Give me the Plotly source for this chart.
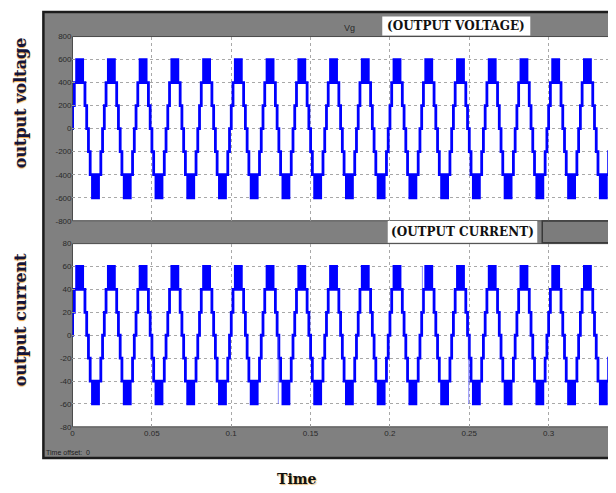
import plotly.graph_objects as go

# ---------------- data ----------------
# times (s) of the positive peaks of each cycle
peak_times = [0.0045, 0.0245, 0.0445, 0.0645, 0.0845, 0.1045, 0.1245, 0.1445,
              0.1645, 0.1845, 0.2045, 0.2245, 0.2445, 0.2645, 0.2845, 0.3045, 0.3245]

# switching instants inside one cycle, relative to its positive peak (ms)
switch_offsets_ms = [-4.45, -3.35, -1.9, -1.3, -1.0, -0.4, -0.1, 0.5, 0.8, 1.4, 1.6, 1.9,
                     3.35, 4.45, 5.55, 6.65, 8.1, 8.7, 9.0, 9.6, 9.9, 10.5, 10.8, 11.4,
                     11.6, 11.9, 13.35, 14.45]
# level held after each switching instant
voltage_levels = [200, 400, 600, 400, 600, 400, 600, 400, 600, 400, 600, 400,
                  200, 0, -200, -400, -600, -400, -600, -400, -600, -400, -600, -400,
                  -600, -400, -200, 0]
current_levels = [20, 40, 60, 40, 60, 40, 60, 40, 60, 40, 60, 40,
                  20, 0, -20, -40, -60, -40, -60, -40, -60, -40, -60, -40,
                  -60, -40, -20, 0]

# thin glitch lines seen in the current trace: (time, from, to)
glitch_t = [0.1297, 0.2205, 0.2497]
glitch_top = [0, 60, 0]
glitch_bottom = [-60, 20, -60]

t_end = 0.3425

v_ticks = [-800, -600, -400, -200, 0, 200, 400, 600, 800]
v_tick_text = ["-800", "-600", "-400", "-200", "0", "200", "400", "600", "800"]
i_ticks = [-80, -60, -40, -20, 0, 20, 40, 60, 80]
i_tick_text = ["-80", "-60", "-40", "-20", "0", "20", "40", "60", "80"]
x_ticks = [0, 0.05, 0.1, 0.15, 0.2, 0.25, 0.3]
x_tick_text = ["0", "0.05", "0.1", "0.15", "0.2", "0.25", "0.3"]

# ---------------- build step series ----------------
def build(levels):
    xs, ys = [0.0], [0]
    for p in peak_times:
        for off, lv in zip(switch_offsets_ms, levels):
            t = p + off / 1000.0
            if 0 <= t <= t_end:
                xs.append(t)
                ys.append(lv)
    xs.append(t_end)
    ys.append(ys[-1])
    return xs, ys

vx, vy = build(voltage_levels)
ix, iy = build(current_levels)

gx, gy = [], []
for t, a, b in zip(glitch_t, glitch_top, glitch_bottom):
    gx += [t, t, None]
    gy += [a, b, None]

# page has an 8px body margin: figure occupies window pixels 8..616 / 8..493
OFF = 8
W, H = 616 - OFF, 493 - OFF
def PX(x):
    return (x - OFF) / W
def PY(y):
    return 1 - (y - OFF) / H

fig = go.Figure()
fig.add_trace(go.Scatter(x=vx, y=vy, mode="lines", line=dict(color="#0000ff", width=2.8, shape="hv"),
                         xaxis="x", yaxis="y", showlegend=False, hoverinfo="skip"))
fig.add_trace(go.Scatter(x=ix, y=iy, mode="lines", line=dict(color="#0000ff", width=2.8, shape="hv"),
                         xaxis="x2", yaxis="y2", showlegend=False, hoverinfo="skip"))
fig.add_trace(go.Scatter(x=gx, y=gy, mode="lines", line=dict(color="rgba(60,60,255,0.6)", width=1),
                         xaxis="x2", yaxis="y2", showlegend=False, hoverinfo="skip"))

x_left, top1, bot1, top2, bot2 = 70.7, 33.0, 220.7, 244.0, 430.7

grid = dict(showgrid=True, gridcolor="#a8a8a8", griddash="dot", gridwidth=1, zeroline=False,
            showline=False, ticks="inside", ticklen=3, tickcolor="#999999",
            tickfont=dict(family="Liberation Sans, Arial", size=8, color="#2a2a2a"))

fig.update_layout(
    width=W, height=H, autosize=False,
    margin=dict(l=0, r=0, t=0, b=0),
    paper_bgcolor="white", plot_bgcolor="white",
    xaxis=dict(domain=[PX(x_left), 1], range=[0, t_end], anchor="y",
               tickvals=x_ticks, ticktext=[""] * len(x_ticks), **grid),
    yaxis=dict(domain=[PY(bot1), PY(top1)], range=[-800, 800], anchor="x",
               tickvals=v_ticks, ticktext=v_tick_text, **grid),
    xaxis2=dict(domain=[PX(x_left), 1], range=[0, t_end], anchor="y2",
                tickvals=x_ticks, ticktext=x_tick_text, **grid),
    yaxis2=dict(domain=[PY(bot2), PY(top2)], range=[-80, 80], anchor="x2",
                tickvals=i_ticks, ticktext=i_tick_text, **grid),
)

shapes = [
    # grey scope frame
    dict(type="rect", xref="paper", yref="paper", x0=PX(41.5), x1=1.05, y0=PY(462.5), y1=PY(8),
         fillcolor="#808080", line=dict(color="#1c1c1c", width=2.5), layer="below"),
    # plot areas
    dict(type="rect", xref="paper", yref="paper", x0=PX(x_left), x1=1.05, y0=PY(bot1), y1=PY(top1),
         fillcolor="white", line=dict(color="#4a4a4a", width=1), layer="below"),
    dict(type="rect", xref="paper", yref="paper", x0=PX(x_left), x1=1.05, y0=PY(bot2), y1=PY(top2),
         fillcolor="white", line=dict(color="#4a4a4a", width=1), layer="below"),
    # title boxes
    dict(type="rect", xref="paper", yref="paper", x0=PX(381.5), x1=PX(530), y0=PY(32), y1=PY(12.5),
         fillcolor="white", line=dict(width=0), layer="above"),
    dict(type="rect", xref="paper", yref="paper", x0=PX(387), x1=PX(537), y0=PY(243), y1=PY(221),
         fillcolor="white", line=dict(width=0), layer="above"),
    dict(type="rect", xref="paper", yref="paper", x0=PX(542), x1=1.05, y0=PY(243), y1=PY(221),
         fillcolor="#7c7c7c", line=dict(color="#3a3a3a", width=1.5), layer="above"),
]
fig.update_layout(shapes=shapes)

serif = "DejaVu Serif, Liberation Serif, serif"
ann = [
    dict(text="<b>output voltage</b>", x=PX(18), y=PY(100), textangle=-90,
         font=dict(family=serif, size=16, color="#15153a", shadow="-1px 0px 1px #e8a040")),
    dict(text="<b>output current</b>", x=PX(18), y=PY(321), textangle=-90,
         font=dict(family=serif, size=16, color="#15153a", shadow="-1px 0px 1px #e8a040")),
    dict(text="<b>Time</b>", x=PX(296), y=PY(484), yanchor="middle",
         font=dict(family=serif, size=14, color="#111111", shadow="1px 1px 1px #e8c080")),
    dict(text="<b>(OUTPUT VOLTAGE)</b>", x=PX(455.5), y=PY(22.5),
         font=dict(family=serif, size=12, color="#111111")),
    dict(text="<b>(OUTPUT CURRENT)</b>", x=PX(461.5), y=PY(232),
         font=dict(family=serif, size=12, color="#111111")),
    dict(text="Vg", x=PX(349), y=PY(24), font=dict(family="Liberation Sans, Arial", size=9, color="#2a2a2a")),
    dict(text="Time offset:  0", x=PX(42), y=PY(457), xanchor="left",
         font=dict(family="Liberation Sans, Arial", size=7, color="#1e1e1e")),
]
for a in ann:
    a.update(xref="paper", yref="paper", showarrow=False)
    a.setdefault("xanchor", "center")
    a.setdefault("yanchor", "middle")
fig.update_layout(annotations=ann)

fig.write_html("out.html")
